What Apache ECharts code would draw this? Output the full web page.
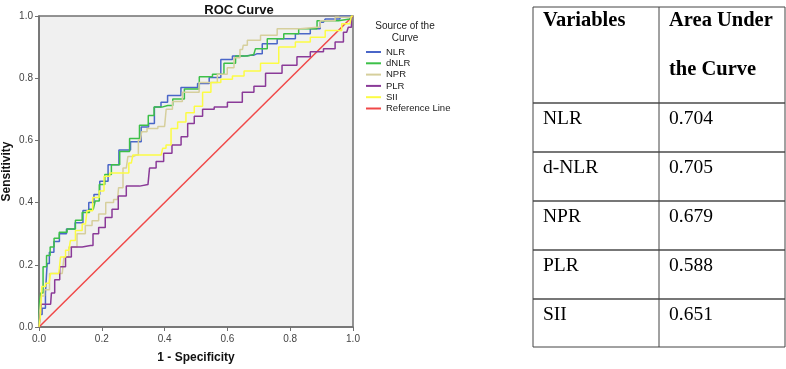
<!DOCTYPE html>
<html>
<head>
<meta charset="utf-8">
<script src="https://cdn.jsdelivr.net/npm/echarts@6/dist/echarts.min.js"></script>
<style>
html,body{margin:0;padding:0;background:#fff;}
#c{width:786px;height:369px;}
</style>
</head>
<body>
<div id="c"></div>
<script>
// ---- data ----
var seriesNames = ['NLR', 'dNLR', 'NPR', 'PLR', 'SII', 'Reference Line'];
var xTicks = [0, 0.2, 0.4, 0.6, 0.8, 1.0];
var nlr = [[0,0],[0.005,0.04],[0.015,0.06],[0.026,0.109],[0.026,0.204],[0.04,0.24],[0.055,0.275],[0.075,0.3],[0.1,0.315],[0.13,0.335],[0.15,0.375],[0.167,0.4],[0.183,0.426],[0.204,0.469],[0.236,0.522],[0.273,0.569],[0.31,0.596],[0.341,0.643],[0.357,0.654],[0.378,0.707],[0.399,0.723],[0.42,0.744],[0.484,0.77],[0.526,0.783],[0.558,0.802],[0.6,0.86],[0.632,0.871],[0.674,0.874],[0.695,0.879],[0.727,0.911],[0.79,0.927],[0.843,0.943],[0.885,0.959],[0.906,0.98],[0.917,0.99],[1,1]];
var dnlr = [[0,0],[0.003,0.077],[0.008,0.109],[0.018,0.194],[0.03,0.23],[0.041,0.257],[0.055,0.285],[0.074,0.305],[0.105,0.315],[0.127,0.343],[0.148,0.368],[0.173,0.379],[0.185,0.405],[0.199,0.458],[0.22,0.49],[0.241,0.522],[0.273,0.564],[0.304,0.606],[0.336,0.649],[0.36,0.68],[0.373,0.707],[0.41,0.712],[0.442,0.733],[0.484,0.765],[0.537,0.805],[0.568,0.813],[0.61,0.848],[0.642,0.871],[0.684,0.876],[0.695,0.895],[0.759,0.927],[0.8,0.943],[0.854,0.959],[0.917,0.985],[0.99,0.99],[1,1]];
var npr = [[0,0],[0.005,0.05],[0.01,0.1],[0.025,0.12],[0.042,0.172],[0.074,0.172],[0.085,0.225],[0.105,0.257],[0.137,0.3],[0.158,0.326],[0.18,0.342],[0.2,0.363],[0.225,0.4],[0.25,0.41],[0.257,0.448],[0.278,0.511],[0.288,0.548],[0.31,0.553],[0.323,0.601],[0.331,0.628],[0.357,0.638],[0.4,0.645],[0.41,0.7],[0.44,0.725],[0.473,0.755],[0.547,0.786],[0.589,0.813],[0.61,0.834],[0.632,0.866],[0.648,0.892],[0.653,0.906],[0.674,0.922],[0.737,0.938],[0.78,0.959],[0.885,0.964],[0.906,0.985],[0.98,0.996],[1,1]];
var plr = [[0,0],[0.005,0.02],[0.01,0.073],[0.037,0.073],[0.042,0.109],[0.058,0.152],[0.074,0.194],[0.095,0.225],[0.111,0.257],[0.164,0.262],[0.18,0.3],[0.2,0.32],[0.222,0.352],[0.243,0.379],[0.262,0.421],[0.294,0.453],[0.347,0.458],[0.357,0.511],[0.389,0.532],[0.405,0.559],[0.442,0.585],[0.463,0.612],[0.484,0.654],[0.505,0.678],[0.537,0.70],[0.579,0.707],[0.621,0.723],[0.674,0.755],[0.695,0.774],[0.748,0.816],[0.8,0.842],[0.843,0.869],[0.885,0.885],[0.927,0.895],[0.959,0.916],[0.98,0.948],[0.99,0.964],[1,1]];
var sii = [[0,0],[0.008,0.03],[0.01,0.13],[0.032,0.141],[0.042,0.172],[0.063,0.172],[0.074,0.225],[0.095,0.247],[0.105,0.278],[0.127,0.31],[0.148,0.331],[0.158,0.374],[0.184,0.416],[0.199,0.437],[0.215,0.485],[0.236,0.495],[0.278,0.495],[0.294,0.527],[0.304,0.553],[0.389,0.553],[0.399,0.575],[0.41,0.585],[0.431,0.638],[0.452,0.659],[0.484,0.689],[0.505,0.71],[0.537,0.755],[0.558,0.786],[0.6,0.797],[0.632,0.807],[0.674,0.823],[0.737,0.848],[0.79,0.9],[0.843,0.916],[0.885,0.932],[0.938,0.953],[0.99,0.975],[1,1]];
var refLine = [[0,0],[1,1]];
var tableHeader = ['Variables', 'Area Under', 'the Curve'];
var tableVars = ['NLR', 'd-NLR', 'NPR', 'PLR', 'SII'];
var tableAUC = ['0.704', '0.705', '0.679', '0.588', '0.651'];

// ---- styles ----
var colors = ['#4a66c8', '#3cc048', '#d6cf9c', '#8a3a98', '#fcfc44', '#f04848'];
var sans = 'Liberation Sans, Arial, sans-serif';
var serif = 'Liberation Serif, Times New Roman, serif';
var curves = [nlr, dnlr, npr, plr, sii];

var series = curves.map(function (d, i) {
  return {
    name: seriesNames[i], type: 'line', data: d, step: 'middle',
    symbol: 'none', lineStyle: { width: 1.5, color: colors[i] },
    itemStyle: { color: colors[i] }, z: 3, animation: false
  };
});
series.push({
  name: seriesNames[5], type: 'line', data: refLine, symbol: 'none',
  lineStyle: { width: 1.5, color: colors[5] }, itemStyle: { color: colors[5] }, z: 2, animation: false
});

// legend title + table graphics
var g = [];
var tx0 = 533, tx1 = 659, tx2 = 785;
var rowY = [7, 103, 152, 201, 250, 299, 347];
g.push({ type: 'text', x: 405, y: 21, style: { text: 'Source of the', font: '10px ' + sans, fill: '#222', textAlign: 'center' } });
g.push({ type: 'text', x: 405, y: 33, style: { text: 'Curve', font: '10px ' + sans, fill: '#222', textAlign: 'center' } });
g.push({ type: 'line', shape: { x1: tx0, y1: rowY[0], x2: tx2, y2: rowY[0] }, style: { stroke: '#444', lineWidth: 1 } });
g.push({ type: 'line', shape: { x1: tx0, y1: rowY[6], x2: tx2, y2: rowY[6] }, style: { stroke: '#444', lineWidth: 1 } });
for (var r = 1; r < 6; r++) {
  g.push({ type: 'line', shape: { x1: tx0, y1: rowY[r], x2: tx2, y2: rowY[r] }, style: { stroke: '#777', lineWidth: 2 } });
}
[tx0, tx1, tx2].forEach(function (x) {
  g.push({ type: 'line', shape: { x1: x, y1: rowY[0], x2: x, y2: rowY[6] }, style: { stroke: '#444', lineWidth: 1 } });
});
g.push({ type: 'text', x: 543, y: 10, style: { text: tableHeader[0], font: 'bold 20.5px ' + serif, fill: '#000' } });
g.push({ type: 'text', x: 669, y: 10, style: { text: tableHeader[1], font: 'bold 20.5px ' + serif, fill: '#000' } });
g.push({ type: 'text', x: 669, y: 59, style: { text: tableHeader[2], font: 'bold 20.5px ' + serif, fill: '#000' } });
for (var k = 0; k < tableVars.length; k++) {
  var ty = rowY[k + 1] + 5.5;
  g.push({ type: 'text', x: 543, y: ty, style: { text: tableVars[k], font: '19.5px ' + serif, fill: '#000' } });
  g.push({ type: 'text', x: 669, y: ty, style: { text: tableAUC[k], font: '19.5px ' + serif, fill: '#000' } });
}

var chart = echarts.init(document.getElementById('c'), null, { renderer: 'canvas' });
chart.setOption({
  animation: false,
  backgroundColor: '#fff',
  title: {
    text: 'ROC Curve', left: 234, top: -1, textAlign: 'center',
    textStyle: { fontFamily: sans, fontSize: 13, fontWeight: 'bold', color: '#111' }
  },
  legend: {
    data: seriesNames, orient: 'vertical', left: 366, top: 47, padding: 0,
    icon: 'rect', itemWidth: 15, itemHeight: 2, itemGap: 1.3, itemTextGap: 2,
    textStyle: { fontFamily: sans, fontSize: 9.5, color: '#222', lineHeight: 10 }
  },
  grid: { left: 37, top: 16, width: 316, height: 315, show: true, backgroundColor: '#f0f0f0', borderColor: '#707070', borderWidth: 1.5 },
  xAxis: {
    type: 'value', min: 0, max: 1, interval: 0.2,
    name: '1 - Specificity', nameLocation: 'middle', nameGap: 25,
    nameTextStyle: { fontFamily: sans, fontSize: 12, fontWeight: 'bold', color: '#111' },
    axisLine: { show: true, lineStyle: { color: '#707070', width: 1.5 } },
    axisTick: { show: true, length: 4, lineStyle: { color: '#707070' } },
    axisLabel: { fontFamily: sans, fontSize: 10, color: '#444', margin: 7, formatter: function (v) { return v.toFixed(1); } },
    splitLine: { show: false }
  },
  yAxis: {
    type: 'value', min: 0, max: 1, interval: 0.2,
    name: 'Sensitivity', nameLocation: 'middle', nameGap: 26, nameRotate: 90,
    nameTextStyle: { fontFamily: sans, fontSize: 12, fontWeight: 'bold', color: '#111' },
    axisLine: { show: true, lineStyle: { color: '#707070', width: 1.5 } },
    axisTick: { show: true, length: 4, lineStyle: { color: '#707070' } },
    axisLabel: { fontFamily: sans, fontSize: 10, color: '#444', margin: 6, formatter: function (v) { return v.toFixed(1); } },
    splitLine: { show: false }
  },
  series: series,
  graphic: g
});
</script>
</body>
</html>
